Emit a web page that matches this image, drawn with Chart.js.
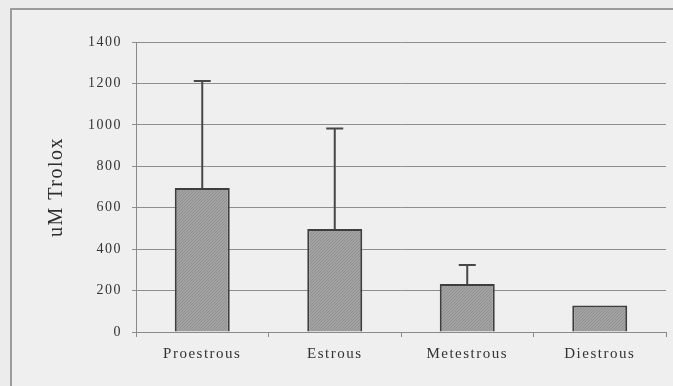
<!DOCTYPE html>
<html>
<head>
<meta charset="utf-8">
<script src="https://cdn.jsdelivr.net/npm/chart.js@4"></script>
<style>
    html, body {
        margin: 0;
        padding: 0;
        background: #ececec;
        width: 673px;
        height: 386px;
        overflow: hidden;
    }
    #frame {
        position: absolute;
        left: 10px;
        top: 8px;
        width: 720px;
        height: 420px;
        border: 2px solid #9c9c9c;
        background: #efefef;
    }
    #wrap {
        position: absolute;
        left: 0;
        top: 0;
        width: 673px;
        height: 386px;
    }
</style>
</head>
<body>
<div id="frame"></div>
<div id="wrap"><canvas id="chart"></canvas></div>
<script>
const categories = ["Proestrous", "Estrous", "Metestrous", "Diestrous"];
const meanValues = [695, 497, 232, 128];
const errorValues = [517, 486, 91, 0];
const yTicks = [0, 200, 400, 600, 800, 1000, 1200, 1400];

// stippled grey fill like the printed bars
function makeStipple() {
    const c = document.createElement("canvas");
    c.width = 3;
    c.height = 3;
    const g = c.getContext("2d");
    g.fillStyle = "#a3a3a3";
    g.fillRect(0, 0, 3, 3);
    g.fillStyle = "#909090";
    g.fillRect(0, 0, 1, 1);
    g.fillRect(2, 1, 1, 1);
    g.fillRect(1, 2, 1, 1);
    return g.createPattern(c, "repeat");
}

const spacingPlugin = {
    id: "spacing",
    beforeUpdate(chart) { chart.ctx.letterSpacing = "1.5px"; },
    beforeDraw(chart) { chart.ctx.letterSpacing = "1.5px"; }
};

const errorBarPlugin = {
    id: "errorBars",
    afterDatasetsDraw(chart) {
        const ctx = chart.ctx;
        const yScale = chart.scales.y;
        const meta = chart.getDatasetMeta(0);
        ctx.save();
        ctx.strokeStyle = "#474747";
        ctx.lineWidth = 2;
        meta.data.forEach((bar, i) => {
            const err = errorValues[i];
            if (!err) return;
            const top = yScale.getPixelForValue(meanValues[i] + err);
            const base = yScale.getPixelForValue(meanValues[i]);
            ctx.beginPath();
            ctx.moveTo(bar.x, base);
            ctx.lineTo(bar.x, top);
            ctx.moveTo(bar.x - 8.5, top);
            ctx.lineTo(bar.x + 8.5, top);
            ctx.stroke();
        });
        ctx.restore();
    }
};

const ctx = document.getElementById("chart").getContext("2d");

new Chart(ctx, {
    type: "bar",
    data: {
        labels: categories,
        datasets: [
            {
                label: "uM Trolox",
                data: meanValues,
                backgroundColor: makeStipple(),
                borderColor: "#3e3e3e",
                borderWidth: 2,
                borderSkipped: "bottom",
                categoryPercentage: 1,
                barPercentage: 0.415
            }
        ]
    },
    options: {
        responsive: true,
        maintainAspectRatio: false,
        animation: false,
        layout: {
            padding: { left: 0, right: 7, top: 42, bottom: 0 }
        },
        plugins: {
            legend: { display: false },
            tooltip: { enabled: false }
        },
        scales: {
            x: {
                afterFit: s => { s.height = 54; },
                border: { color: "#8a8a8a", width: 1 },
                grid: {
                    drawOnChartArea: false,
                    drawTicks: true,
                    tickLength: 5,
                    color: "#8a8a8a"
                },
                ticks: {
                    color: "#333333",
                    padding: 8,
                    font: { family: "Liberation Serif", size: 15 }
                }
            },
            y: {
                min: 0,
                max: 1400,
                afterFit: s => { s.width = 136; },
                afterBuildTicks: s => { s.ticks = yTicks.map(v => ({ value: v })); },
                border: { color: "#8a8a8a", width: 1 },
                grid: {
                    color: "#8e8e8e",
                    lineWidth: 1,
                    tickLength: 4
                },
                ticks: {
                    color: "#333333",
                    padding: 10,
                    callback: v => String(v),
                    font: { family: "Liberation Serif", size: 14 }
                },
                title: {
                    display: true,
                    text: "uM Trolox",
                    color: "#2e2e2e",
                    padding: { top: 45, bottom: 0 },
                    font: { family: "Liberation Serif", size: 20 }
                }
            }
        }
    },
    plugins: [spacingPlugin, errorBarPlugin]
});
</script>
</body>
</html>
